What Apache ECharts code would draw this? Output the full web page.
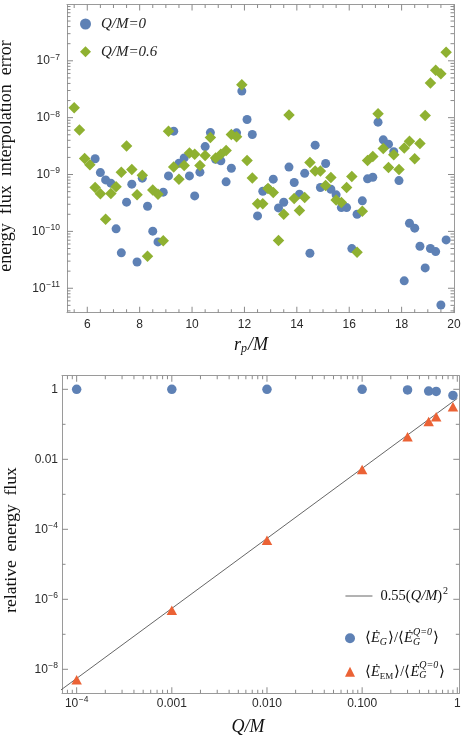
<!DOCTYPE html>
<html><head><meta charset="utf-8">
<script src="https://cdn.jsdelivr.net/npm/echarts@6/dist/echarts.min.js"></script>
<style>html,body{margin:0;padding:0;background:#fff}#c{width:464px;height:742px}</style>
</head><body><div id="c"></div>
<script>
// ---------- top panel data ----------
const rpQ0 = [6.3,6.5,6.7,6.9,7.1,7.3,7.5,7.7,7.9,8.1,8.3,8.5,8.7,8.9,9.1,9.3,9.5,9.7,9.9,10.1,10.3,10.5,10.7,10.9,11.1,11.3,11.5,11.7,11.9,12.1,12.3,12.5,12.7,12.9,13.1,13.3,13.5,13.7,13.9,14.1,14.3,14.5,14.7,14.9,15.1,15.3,15.5,15.7,15.9,16.1,16.3,16.5,16.7,16.9,17.1,17.3,17.5,17.7,17.9,18.1,18.3,18.5,18.7,18.9,19.1,19.3,19.5,19.7];
const errQ0 = [1.89e-9,1.08e-9,8.05e-10,7.05e-10,1.11e-10,4.19e-11,3.27e-10,6.76e-10,2.90e-11,8.63e-10,2.77e-10,1.01e-10,6.53e-11,4.89e-10,9.46e-10,5.79e-9,1.58e-9,1.96e-9,9.46e-10,4.21e-10,1.10e-9,3.10e-9,5.47e-9,1.86e-9,1.74e-9,7.43e-10,1.29e-9,5.41e-9,2.93e-8,9.27e-9,5.05e-9,1.87e-10,5.09e-10,5.6e-10,8.28e-10,2.59e-10,3.26e-10,1.35e-9,7.23e-10,4.51e-10,1.05e-9,4.13e-11,3.28e-9,5.90e-10,1.56e-9,5.52e-10,4.39e-10,2.62e-10,2.62e-10,4.98e-11,2.00e-10,3.44e-10,8.39e-10,8.97e-10,8.34e-9,4.07e-9,3.42e-9,2.51e-9,7.83e-10,1.35e-11,1.39e-10,1.14e-10,5.48e-11,2.28e-11,4.99e-11,4.41e-11,5.08e-12,7.08e-11];
const rpQ06 = [5.5,5.7,5.9,6.1,6.3,6.5,6.7,6.9,7.1,7.3,7.5,7.7,7.9,8.1,8.3,8.5,8.7,8.9,9.1,9.3,9.5,9.7,9.9,10.1,10.3,10.5,10.7,10.9,11.1,11.3,11.5,11.7,11.9,12.1,12.3,12.5,12.7,12.9,13.1,13.3,13.5,13.7,13.9,14.1,14.3,14.5,14.7,14.9,15.1,15.3,15.5,15.7,15.9,16.1,16.3,16.5,16.7,16.9,17.1,17.3,17.5,17.7,17.9,18.1,18.3,18.5,18.7,18.9,19.1,19.3,19.5,19.7];
const errQ06 = [1.49e-8,6.04e-9,1.91e-9,1.48e-9,5.90e-10,4.57e-10,1.64e-10,4.62e-10,6.07e-10,1.10e-9,3.16e-9,1.22e-9,4.39e-10,9.75e-10,3.66e-11,5.37e-10,4.51e-10,6.81e-11,5.79e-9,1.36e-9,8.28e-10,1.44e-9,2.40e-9,2.28e-9,1.44e-9,2.16e-9,4.47e-9,1.96e-9,2.28e-9,2.64e-9,5.05e-9,4.60e-9,3.78e-8,1.76e-9,8.73e-10,3.05e-10,3.05e-10,5.66e-10,4.82e-10,6.89e-11,2.00e-10,1.11e-8,3.78e-10,2.32e-10,3.94e-10,1.63e-9,1.15e-9,1.15e-9,6.40e-10,8.85e-10,3.58e-10,3.21e-10,5.90e-10,9.23e-10,4.31e-11,2.26e-10,1.76e-9,2.07e-9,1.17e-8,2.86e-9,1.33e-9,2.22e-9,1.22e-9,2.94e-9,3.86e-9,1.89e-9,3.51e-9,1.09e-8,4.05e-8,6.85e-8,5.90e-8,1.42e-7];
const topXTicks = [6,8,10,12,14,16,18,20];
const topYExps = [-11,-10,-9,-8,-7];

// ---------- bottom panel data ----------
const qValues = [1e-4,1e-3,1e-2,0.1,0.3,0.5,0.6,0.9];
const gravRatio = [1,1,1,1,0.96,0.89,0.87,0.67];
const emRatio = [5.0e-9,4.9e-7,4.9e-5,5.1e-3,0.044,0.12,0.165,0.32];
const fitQ = [6.5e-5,1];
const fitE = [2.32e-9,0.55];
const botXExps = [-4,-3,-2,-1,0];
const botXLabels = ['10^-4','0.001','0.010','0.100','1'];
const botYExps = [-8,-6,-4,-2,0];
const botYLabels = ['10^-8','10^-6','10^-4','0.01','1'];

const SERIF = '"Liberation Serif","Times New Roman",serif';
const SANS = '"Liberation Sans",Arial,sans-serif';
const FRAME = '#9a9a9a';
const TICK = '#8a8a8a';
const LAB = '#2a2a2a';
const BLUE = '#5E81B5', GREEN = '#8FB131', ORANGE = '#EB6235';

const TOP_X = [5.226, 20], TOP_Y = [-11.43, -6.01];
const BOT_X = [-4.154, 0.021], BOT_Y = [-8.686, 0.389];

const lg = Math.log10;
function rich(s) {
  const m = /^10\^(-?\d+)$/.exec(s);
  if (m) return '{b|10}{s|' + m[1].replace('-', '\u2212') + '}';
  return '{b|' + s + '}';
}
const labRich = {
  b: {fontFamily: SANS, fontSize: 12, color: LAB, lineHeight: 16},
  s: {fontFamily: SANS, fontSize: 8.5, color: LAB, verticalAlign: 'top', padding: [0, 0, 0, 0.5]}
};

// minor tick positions
const topXMinor = []; for (let v = 5.5; v < 20; v += 0.5) if (v % 2 !== 0) topXMinor.push(v);
const topYMinor = []; for (let n = -12; n <= -7; n++) for (let k = 2; k <= 9; k++) { const v = lg(k) + n; if (v > TOP_Y[0] && v < TOP_Y[1]) topYMinor.push(v); }
const botXMinor = []; for (let n = -5; n <= -1; n++) for (let k = 2; k <= 9; k++) { const v = lg(k) + n; if (v > BOT_X[0] && v < BOT_X[1]) botXMinor.push(v); }
const botYMinor = [-7, -5, -3, -1];

function ax(gi, pos, ext, label) {
  const o = {
    type: 'value', gridIndex: gi, position: pos, min: ext[0], max: ext[1],
    axisLine: {show: true, onZero: false, lineStyle: {color: FRAME, width: 1}},
    axisTick: {show: false},
    splitLine: {show: false},
    axisLabel: {show: false}
  };
  if (label) o.axisLabel = Object.assign({show: true, rich: labRich}, label);
  return o;
}

const xAxis = [
  ax(0, 'bottom', TOP_X, {customValues: topXTicks, margin: 3.5, formatter: v => rich(String(v))}),
  ax(0, 'top', TOP_X),
  ax(1, 'bottom', BOT_X, {customValues: botXExps, margin: 2, formatter: v => rich(botXLabels[botXExps.indexOf(Math.round(v))])}),
  ax(1, 'top', BOT_X)
];
const yAxis = [
  ax(0, 'left', TOP_Y, {customValues: topYExps, margin: 7, formatter: v => rich('10^' + Math.round(v))}),
  ax(0, 'right', TOP_Y),
  ax(1, 'left', BOT_Y, {customValues: botYExps, margin: 4, formatter: v => rich(botYLabels[botYExps.indexOf(Math.round(v))])}),
  ax(1, 'right', BOT_Y)
];

// frame tick marks, placed through the axes' scales as thin rect symbols sitting on the frame
function tickMarks(ai, xr, yr, xMaj, xMin, yMaj, yMin) {
  const out = [];
  const mk = (pts, size, off) => out.push({
    type: 'scatter', xAxisIndex: ai, yAxisIndex: ai, silent: true, clip: false, z: 1,
    symbol: 'rect', symbolSize: size, symbolOffset: off, itemStyle: {color: TICK, opacity: 1},
    emphasis: {disabled: true}, legendHoverLink: false, data: pts
  });
  [[xMaj, 6], [xMin, 3.5]].forEach(([vals, L]) => {
    mk(vals.map(v => [v, yr[0]]), [1, L], [0, -L / 2]);
    mk(vals.map(v => [v, yr[1]]), [1, L], [0, L / 2]);
  });
  [[yMaj, 6], [yMin, 3.5]].forEach(([vals, L]) => {
    mk(vals.map(v => [xr[0], v]), [L, 1], [L / 2, 0]);
    mk(vals.map(v => [xr[1], v]), [L, 1], [-L / 2, 0]);
  });
  return out;
}

const legRich = {
  n: {fontFamily: SERIF, fontSize: 14.5, color: '#111'},
  i: {fontFamily: SERIF, fontSize: 14.5, fontStyle: 'italic', color: '#111'},
  p: {fontFamily: SERIF, fontSize: 10, color: '#111', verticalAlign: 'top', padding: [2, 0, 0, 1]},
  gz: {fontFamily: SERIF, fontSize: 10, fontStyle: 'italic', color: '#111', verticalAlign: 'bottom', padding: [0, 0, 3, 0], width: 0},
  g: {fontFamily: SERIF, fontSize: 10, fontStyle: 'italic', color: '#111', verticalAlign: 'bottom', padding: [0, 1, 3, 0]},
  em: {fontFamily: SERIF, fontSize: 9, color: '#111', verticalAlign: 'bottom', padding: [0, 1, 3, 0]},
  q: {fontFamily: SERIF, fontSize: 10, fontStyle: 'italic', color: '#111', verticalAlign: 'top', padding: [1, 1, 0, 0]}
};
const legTexts = {
  fit: '{n|0.55(}{i|Q/M}{n|)}{p|2}',
  G: '{n|\u27E8}{i|\u0116}{g|G}{n|\u27E9/\u27E8}{i|\u0116}{gz|G}{q|Q=0}{n|\u27E9}',
  EM: '{n|\u27E8}{i|\u0116}{em|EM}{n|\u27E9/\u27E8}{i|\u0116}{gz|G}{q|Q=0}{n|\u27E9}'
};

const option = {
  animation: false,
  backgroundColor: '#fff',
  grid: [
    {left: 67, top: 4.5, width: 387, height: 308.2, containLabel: false},
    {left: 62, top: 375.7, width: 397.3, height: 317.6, containLabel: false}
  ],
  xAxis, yAxis,
  legend: [
    {orient: 'vertical', left: 80, top: 15, padding: 0, itemGap: 9.7, itemWidth: 11, itemHeight: 11,
     data: [{name: 'Q/M=0', icon: 'circle'}, {name: 'Q/M=0.6', icon: 'diamond'}],
     textStyle: {fontFamily: SERIF, fontStyle: 'italic', fontSize: 15, color: '#222', lineHeight: 18, padding: [0, 0, 0, 5]}},
    {orient: 'vertical', left: 345, top: 584, padding: 0, itemWidth: 27, itemHeight: 10,
     data: [{name: 'fit'}], formatter: n => legTexts[n],
     itemStyle: {opacity: 0}, lineStyle: {color: '#555', width: 0.9},
     textStyle: {lineHeight: 24, rich: legRich, padding: [0, 0, 0, 3]}},
    {orient: 'vertical', left: 345, top: 626.3, padding: 0, itemGap: 9.4, itemWidth: 10, itemHeight: 10,
     data: [{name: 'G', icon: 'circle'}, {name: 'EM', icon: 'triangle'}], formatter: n => legTexts[n],
     textStyle: {lineHeight: 24, rich: legRich, padding: [0, 0, 0, 5]}}
  ],
  graphic: [
    {type: 'text', x: 6, y: 156, rotation: Math.PI / 2,
     style: {text: 'energy  flux  interpolation  error', fontFamily: SERIF, fontSize: 18, fill: '#111', align: 'center', verticalAlign: 'middle'}},
    {type: 'text', x: 11, y: 540, rotation: Math.PI / 2,
     style: {text: 'relative  energy  flux', fontFamily: SERIF, fontSize: 17.5, fill: '#111', align: 'center', verticalAlign: 'middle'}},
    {type: 'text', x: 251, y: 345,
     style: {text: '{i|r}{s|p}{i|/M}', align: 'center', verticalAlign: 'middle',
       rich: {i: {fontFamily: SERIF, fontStyle: 'italic', fontSize: 18, fill: '#111', lineHeight: 24},
              s: {fontFamily: SERIF, fontStyle: 'italic', fontSize: 12, fill: '#111', verticalAlign: 'bottom', padding: [0, 1, 2, 0]}}}},
    {type: 'text', x: 248, y: 727,
     style: {text: 'Q/M', fontFamily: SERIF, fontStyle: 'italic', fontSize: 18, fill: '#111', align: 'center', verticalAlign: 'middle'}}
  ],
  series: [].concat(
    tickMarks(0, TOP_X, TOP_Y, topXTicks, topXMinor, topYExps, topYMinor),
    tickMarks(2, BOT_X, BOT_Y, botXExps, botXMinor, botYExps, botYMinor),
    [
      {name: 'Q/M=0', type: 'scatter', xAxisIndex: 0, yAxisIndex: 0, symbol: 'circle', symbolSize: 9,
       itemStyle: {color: BLUE, opacity: 1}, data: rpQ0.map((r, i) => [r, lg(errQ0[i])]), z: 2},
      {name: 'Q/M=0.6', type: 'scatter', xAxisIndex: 0, yAxisIndex: 0, symbol: 'diamond', symbolSize: 11.5,
       itemStyle: {color: GREEN, opacity: 1}, data: rpQ06.map((r, i) => [r, lg(errQ06[i])]), z: 3},
      {name: 'fit', type: 'line', xAxisIndex: 2, yAxisIndex: 2, symbol: 'none', showSymbol: false,
       lineStyle: {color: '#555', width: 0.9}, itemStyle: {color: '#555'},
       data: fitQ.map((q, i) => [lg(q), lg(fitE[i])]), z: 1, clip: true},
      {name: 'G', type: 'scatter', xAxisIndex: 2, yAxisIndex: 2, symbol: 'circle', symbolSize: 9.5,
       itemStyle: {color: BLUE, opacity: 1}, data: qValues.map((q, i) => [lg(q), lg(gravRatio[i])]), z: 3},
      {name: 'EM', type: 'scatter', xAxisIndex: 2, yAxisIndex: 2, symbol: 'triangle', symbolSize: [10.5, 9.5],
       itemStyle: {color: ORANGE, opacity: 1}, data: qValues.map((q, i) => [lg(q), lg(emRatio[i])]), z: 3}
    ])
};
const chart = echarts.init(document.getElementById('c'), null, {renderer: 'canvas'});
chart.setOption(option);
</script></body></html>
